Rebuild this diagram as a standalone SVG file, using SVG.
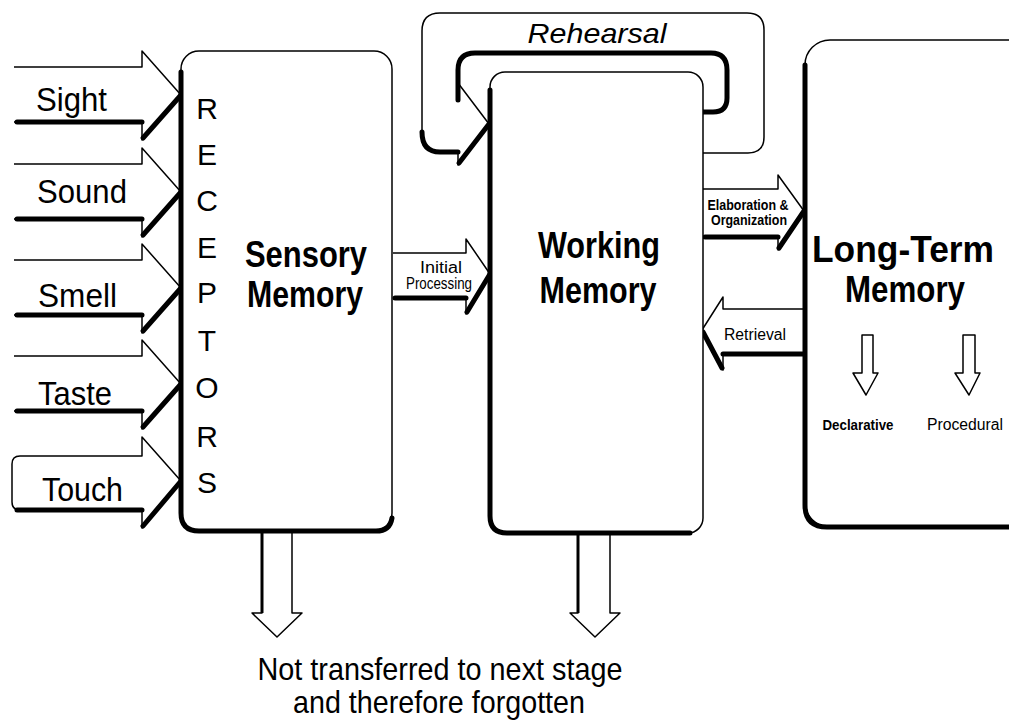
<svg xmlns="http://www.w3.org/2000/svg" width="1009" height="722" viewBox="0 0 1009 722">
<defs>
<style>
.t{fill:#fff;stroke:#000;stroke-width:1.5;stroke-linejoin:round}
.o{fill:none;stroke:#000;stroke-width:1.5;stroke-linejoin:round}
.k{fill:none;stroke:#000;stroke-width:5;stroke-linecap:round;stroke-linejoin:round}
.m{fill:none;stroke:#000;stroke-width:3}
text{font-family:"Liberation Sans",Arial,sans-serif;fill:#000}
.in{font-size:34px}
.rc{font-size:30px;text-anchor:middle}
.ti{font-size:37px;font-weight:bold;text-anchor:middle}
.sm{font-size:16px;text-anchor:middle}
.smb{font-size:14px;font-weight:bold;text-anchor:middle}
.bt{font-size:32px;text-anchor:middle}
</style>
</defs>
<rect width="1009" height="722" fill="#fff"/>

<g id="connectors">
  <g id="arrow-sight">
    <path class="t" d="M14,67 L142,67 L142,51 L181,95 L142,140 L142,122 L14,122"/>
    <path class="k" d="M17,122 L142,122 M143,138 L181,95"/>
  </g>
  <g id="arrow-sound">
    <path class="t" d="M14,164 L142,164 L142,148 L181,192 L142,237 L142,219 L14,219"/>
    <path class="k" d="M17,219 L142,219 M143,235 L181,192"/>
  </g>
  <g id="arrow-smell">
    <path class="t" d="M14,260 L142,260 L142,244 L181,288 L142,333 L142,315 L14,315"/>
    <path class="k" d="M17,315 L142,315 M143,331 L181,288"/>
  </g>
  <g id="arrow-taste">
    <path class="t" d="M14,356 L142,356 L142,340 L181,384 L142,429 L142,411 L14,411"/>
    <path class="k" d="M17,411 L142,411 M143,427 L181,384"/>
  </g>
  <g id="arrow-touch">
    <path class="t" d="M20,456 L142,456 L142,437 L181,481 L142,528 L142,510 L20,510 Q12,510 12,502 L12,464 Q12,456 20,456 Z"/>
    <path class="k" d="M17,510 L142,510 M143,526 L181,481"/>
  </g>

  <g id="rehearsal">
    <path class="t" d="M703,153 L748,153 Q764,153 764,137 L764,30 Q764,13 747,13 L440,13 Q422,13 422,31 L422,137 Q422,152 437,152 L458,152 L458,165 L489,124 L458,83 L458,70 Q458,53 475,53 L711,53 Q727,53 727,70 L727,98 Q727,112 713,112 L703,112"/>
    <path class="k" d="M458,100 L458,70 Q458,53 475,53 L711,53 Q727,53 727,70 L727,98 Q727,112 713,112 L703,112"/>
    <path class="k" d="M422,132 Q422,152 440,152 L458,152 M459,163 L489,124"/>
  </g>

  <g id="arrow-initial">
    <path class="t" d="M393,253 L466,253 L466,239 L490,274 L466,314 L466,298 L393,298"/>
    <path class="k" d="M395,298 L466,298 M467,312 L490,274"/>
  </g>

  <g id="arrow-elab">
    <path class="t" d="M703,189 L778,189 L778,175 L804,211 L778,250 L778,237 L703,237"/>
    <path class="k" d="M705,237 L778,237 M779,248 L804,211"/>
  </g>

  <g id="arrow-retrieval">
    <path class="t" d="M804,309 L723,309 L723,297 L702,330 L723,370 L723,354 L804,354"/>
    <path class="k" d="M723,354 L804,354 M703,332 L722,368"/>
  </g>

  <g id="arrow-forget-1">
    <path class="t" d="M262,532 L262,613 L252,613 L277,637 L302,613 L292,613 L292,532"/>
    <path class="m" d="M262,532 L262,613"/>
  </g>
  <g id="arrow-forget-2">
    <path class="t" d="M578,534 L578,613 L570,613 L595,637 L620,613 L610,613 L610,534"/>
    <path class="m" d="M578,534 L578,613"/>
  </g>
</g>

<g id="sensory-memory">
  <rect class="t" x="181" y="51" width="211" height="480" rx="18"/>
  <path class="k" d="M181,72 L181,513 Q181,531 199,531 L376,531 Q390,531 392,518"/>
  <text class="rc" x="207" y="119">R</text>
  <text class="rc" x="207" y="165">E</text>
  <text class="rc" x="207" y="211">C</text>
  <text class="rc" x="207" y="258">E</text>
  <text class="rc" x="207" y="303">P</text>
  <text class="rc" x="207" y="351">T</text>
  <text class="rc" x="207" y="398">O</text>
  <text class="rc" x="207" y="447">R</text>
  <text class="rc" x="207" y="493">S</text>
  <text class="ti" x="306" y="267" textLength="122" lengthAdjust="spacingAndGlyphs">Sensory</text>
  <text class="ti" x="305" y="307" textLength="116" lengthAdjust="spacingAndGlyphs">Memory</text>
</g>

<g id="working-memory">
  <rect class="t" x="490" y="72" width="213" height="461" rx="15"/>
  <path class="k" d="M490,90 L490,516 Q490,533 507,533 L690,533"/>
  <text class="ti" x="599" y="258" textLength="122" lengthAdjust="spacingAndGlyphs">Working</text>
  <text class="ti" x="598" y="303" textLength="117" lengthAdjust="spacingAndGlyphs">Memory</text>
</g>

<g id="long-term-memory">
  <rect class="t" x="805" y="40" width="240" height="487" rx="25"/>
  <path class="k" d="M805,65 L805,505 Q805,527 827,527 L1012,527"/>
  <text class="ti" x="903" y="262" font-size="32" textLength="182" lengthAdjust="spacingAndGlyphs">Long-Term</text>
  <text class="ti" x="905" y="302" font-size="32" textLength="120" lengthAdjust="spacingAndGlyphs">Memory</text>
  <g id="arrow-declarative">
    <path class="t" d="M862,335 L862,373 L853,373 L866,395 L878,373 L873,373 L873,335 Z"/>
  </g>
  <g id="arrow-procedural">
    <path class="t" d="M963,335 L963,373 L955,373 L969,395 L980,373 L975,373 L975,335 Z"/>
  </g>
  <text class="smb" x="858" y="430" textLength="71" lengthAdjust="spacingAndGlyphs">Declarative</text>
  <text class="sm" x="965" y="430" font-size="15" textLength="76" lengthAdjust="spacingAndGlyphs">Procedural</text>
</g>

<g id="labels">
  <text class="in" x="36" y="111" textLength="71" lengthAdjust="spacingAndGlyphs">Sight</text>
  <text class="in" x="37" y="203" textLength="90" lengthAdjust="spacingAndGlyphs">Sound</text>
  <text class="in" x="38" y="307" textLength="79" lengthAdjust="spacingAndGlyphs">Smell</text>
  <text class="in" x="38" y="405" textLength="74" lengthAdjust="spacingAndGlyphs">Taste</text>
  <text class="in" x="42" y="501" textLength="81" lengthAdjust="spacingAndGlyphs">Touch</text>
  <text x="597" y="43" font-size="28" font-style="italic" text-anchor="middle" textLength="139" lengthAdjust="spacingAndGlyphs">Rehearsal</text>
  <text class="sm" x="441" y="273" font-size="16" textLength="42" lengthAdjust="spacingAndGlyphs">Initial</text>
  <text class="sm" x="439" y="289" font-size="16" textLength="66" lengthAdjust="spacingAndGlyphs">Processing</text>
  <text class="smb" x="748" y="210" font-size="13" textLength="81" lengthAdjust="spacingAndGlyphs">Elaboration &amp;</text>
  <text class="smb" x="749" y="225" font-size="13" textLength="76" lengthAdjust="spacingAndGlyphs">Organization</text>
  <text class="sm" x="755" y="340" font-size="17" textLength="62" lengthAdjust="spacingAndGlyphs">Retrieval</text>
  <text class="bt" x="440" y="680" textLength="365" lengthAdjust="spacingAndGlyphs">Not transferred to next stage</text>
  <text class="bt" x="439" y="713" textLength="292" lengthAdjust="spacingAndGlyphs">and therefore forgotten</text>
</g>
</svg>
